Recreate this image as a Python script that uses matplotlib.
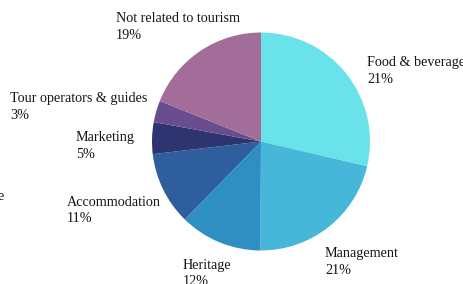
import matplotlib
matplotlib.use("Agg")
import matplotlib.pyplot as plt

# slice order: clockwise from 12 o'clock
categories = ["Food & beverage", "Management", "Heritage", "Accommodation",
              "Marketing", "Tour operators & guides", "Not related to tourism"]
# shares as drawn in the picture (angles)
shares = [28.6, 21.4, 12.2, 10.8, 4.7, 3.2, 18.9]
# percentages as printed in the labels
pct_labels = ["21%", "21%", "12%", "11%", "5%", "3%", "19%"]
colors = ["#6ae2e9", "#46b7d8", "#2f8ec2", "#2f5e9c", "#2e3470", "#6a4d8e", "#a26d98"]

# label anchor (left x, y of the name line), pixel coords from top-left
label_pos = [(367, 62), (325, 254), (183, 265), (67, 202), (76, 137), (10, 98), (116, 18)]

W, H = 464, 284
fig = plt.figure(figsize=(W / 100, H / 100), dpi=100)
ax = fig.add_axes([0, 0, 1, 1])

ax.pie(shares, colors=colors, startangle=90, counterclock=False,
       center=(261, H - 141.5), radius=109, frame=True,
       wedgeprops=dict(linewidth=0))
ax.set_xlim(0, W)
ax.set_ylim(0, H)
ax.set_aspect("equal")
ax.axis("off")

font = dict(family="Liberation Serif", fontsize=10.2, color="#161616")
for name, pct, (x, y) in zip(categories, pct_labels, label_pos):
    ax.text(x, H - y, name, ha="left", va="center", **font)
    ax.text(x, H - y - 17, pct, ha="left", va="center", **font)

# cut-off label at the left edge
ax.text(4, H - 196, "e", ha="right", va="center", **font)

fig.savefig("out.png", dpi=100, facecolor="white")
